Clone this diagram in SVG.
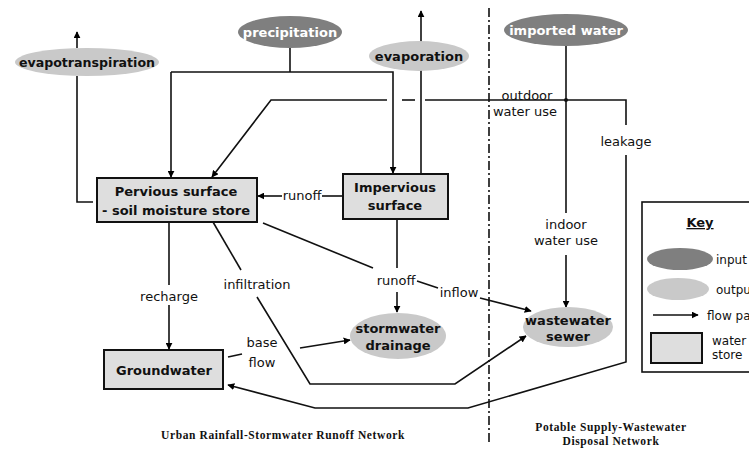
<svg xmlns="http://www.w3.org/2000/svg" width="749" height="449" viewBox="0 0 749 449">
<defs>
<marker id="ah" viewBox="0 0 10 10" refX="9" refY="5" markerWidth="7" markerHeight="7" markerUnits="userSpaceOnUse" orient="auto">
<path d="M0,0 L10,5 L0,10 z" fill="#000"/>
</marker>
<style>
.c{fill:none;stroke:#111;stroke-width:1.6}
.a{marker-end:url(#ah)}
.in{fill:#7f7f7f}
.out{fill:#c9c9c9}
.box{fill:#dedede;stroke:#111;stroke-width:2}
.nb{font-family:"DejaVu Sans","Liberation Sans",sans-serif;font-weight:bold;font-size:13px;fill:#111;text-anchor:middle}
.nw{font-family:"DejaVu Sans","Liberation Sans",sans-serif;font-weight:bold;font-size:13px;fill:#fff;text-anchor:middle}
.l{font-family:"DejaVu Sans","Liberation Sans",sans-serif;font-size:13px;fill:#111;text-anchor:middle}
.lk{font-family:"DejaVu Sans","Liberation Sans",sans-serif;font-size:12px;fill:#111}
.cap{font-family:"Liberation Serif","Times New Roman",serif;font-weight:bold;font-size:11.5px;letter-spacing:0.6px;fill:#111;text-anchor:middle}
</style>
</defs>
<rect width="749" height="449" fill="#fff"/>

<g id="connectors">
<line x1="489" y1="8" x2="489" y2="445" stroke="#111" stroke-width="1.6" stroke-dasharray="9,3,2,3"/>
<line class="c a" x1="77" y1="48" x2="77" y2="32"/>
<polyline class="c" points="93,202 77,202 77,76"/>
<polyline class="c" points="290,48 290,72"/>
<polyline class="c a" points="171,72 171,177"/>
<polyline class="c a" points="171,72 393,72 393,173"/>
<line class="c a" x1="421" y1="174" x2="421" y2="11"/>
<polyline class="c a" points="387,100 271,100 212,177"/>
<line class="c" x1="402" y1="100" x2="415" y2="100"/>
<polyline class="c" points="425,100 626,100 626,125"/>
<polyline class="c a" points="626,155 626,362 468,408 315,408 228,385"/>
<line class="c" x1="566" y1="46" x2="566" y2="213"/>
<circle cx="566" cy="100" r="2" fill="#111"/>
<line class="c a" x1="566" y1="255" x2="566" y2="307"/>
<line class="c" x1="343" y1="196" x2="322" y2="196"/>
<line class="c a" x1="282" y1="196" x2="258" y2="196"/>
<line class="c" x1="397" y1="219" x2="397" y2="268"/>
<line class="c a" x1="397" y1="292" x2="397" y2="312"/>
<line class="c" x1="263" y1="223" x2="373" y2="268"/>
<line class="c" x1="417" y1="281" x2="438" y2="288"/>
<line class="c a" x1="480" y1="298" x2="531" y2="311"/>
<line class="c" x1="213" y1="222" x2="241" y2="270"/>
<polyline class="c a" points="257,297 310,384 455,384 526,336"/>
<line class="c" x1="169" y1="222" x2="169" y2="285"/>
<line class="c a" x1="169" y1="305" x2="169" y2="349"/>
<line class="c" x1="228" y1="357" x2="242" y2="354"/>
<line class="c a" x1="300" y1="348" x2="350" y2="340"/>
</g>

<g id="precipitation"><ellipse class="in" cx="290" cy="32" rx="52" ry="16"/><text class="nw" x="290" y="37">precipitation</text></g>
<g id="evapotranspiration"><ellipse class="out" cx="87" cy="62" rx="72" ry="14"/><text class="nb" x="87" y="67" style="font-size:12.6px">evapotranspiration</text></g>
<g id="evaporation"><ellipse class="out" cx="419" cy="56" rx="50" ry="15"/><text class="nb" x="419" y="61">evaporation</text></g>
<g id="imported-water"><ellipse class="in" cx="566" cy="30" rx="62" ry="16"/><text class="nw" x="566" y="35">imported water</text></g>

<g id="pervious"><rect class="box" x="97" y="178" width="160" height="44"/><text class="nb" x="176" y="196">Pervious surface</text><text class="nb" x="176" y="215">- soil moisture store</text></g>
<g id="impervious"><rect class="box" x="343" y="174" width="105" height="45"/><text class="nb" x="395" y="192">Impervious</text><text class="nb" x="395" y="210">surface</text></g>
<g id="groundwater"><rect class="box" x="104" y="350" width="119" height="39"/><text class="nb" x="164" y="375">Groundwater</text></g>
<g id="stormwater"><ellipse class="out" cx="398" cy="336" rx="48" ry="23"/><text class="nb" x="398" y="333">stormwater</text><text class="nb" x="398" y="350">drainage</text></g>
<g id="wastewater"><ellipse class="out" cx="568" cy="327" rx="45" ry="20"/><text class="nb" x="568" y="325">wastewater</text><text class="nb" x="568" y="341">sewer</text></g>

<g id="labels">
<text class="l" x="527" y="100">outdoor</text>
<text class="l" x="525" y="116">water use</text>
<text class="l" x="626" y="146">leakage</text>
<text class="l" x="566" y="229">indoor</text>
<text class="l" x="566" y="245">water use</text>
<text class="l" x="302" y="200">runoff</text>
<text class="l" x="396" y="285">runoff</text>
<text class="l" x="459" y="297">inflow</text>
<text class="l" x="257" y="289">infiltration</text>
<text class="l" x="169" y="301">recharge</text>
<text class="l" x="262" y="347">base</text>
<text class="l" x="262" y="367">flow</text>
</g>

<g id="key">
<rect x="642" y="202" width="120" height="170" fill="#fff" stroke="#111" stroke-width="1.6"/>
<text x="700" y="227" font-family="DejaVu Sans,Liberation Sans,sans-serif" font-weight="bold" font-size="13" text-anchor="middle" text-decoration="underline" fill="#111">Key</text>
<ellipse class="in" cx="680" cy="259" rx="33" ry="11"/>
<text class="lk" x="716" y="264">input</text>
<ellipse class="out" cx="678" cy="289" rx="31" ry="11"/>
<text class="lk" x="716" y="294">output</text>
<line class="c a" x1="653" y1="315" x2="698" y2="315"/>
<text class="lk" x="707" y="320">flow path</text>
<rect class="box" x="651" y="333" width="51" height="30"/>
<text class="lk" x="712" y="345">water</text>
<text class="lk" x="712" y="359">store</text>
</g>

<g id="captions">
<text class="cap" x="283" y="439">Urban Rainfall-Stormwater Runoff Network</text>
<text class="cap" x="611" y="431">Potable Supply-Wastewater</text>
<text class="cap" x="611" y="445">Disposal Network</text>
</g>
</svg>
